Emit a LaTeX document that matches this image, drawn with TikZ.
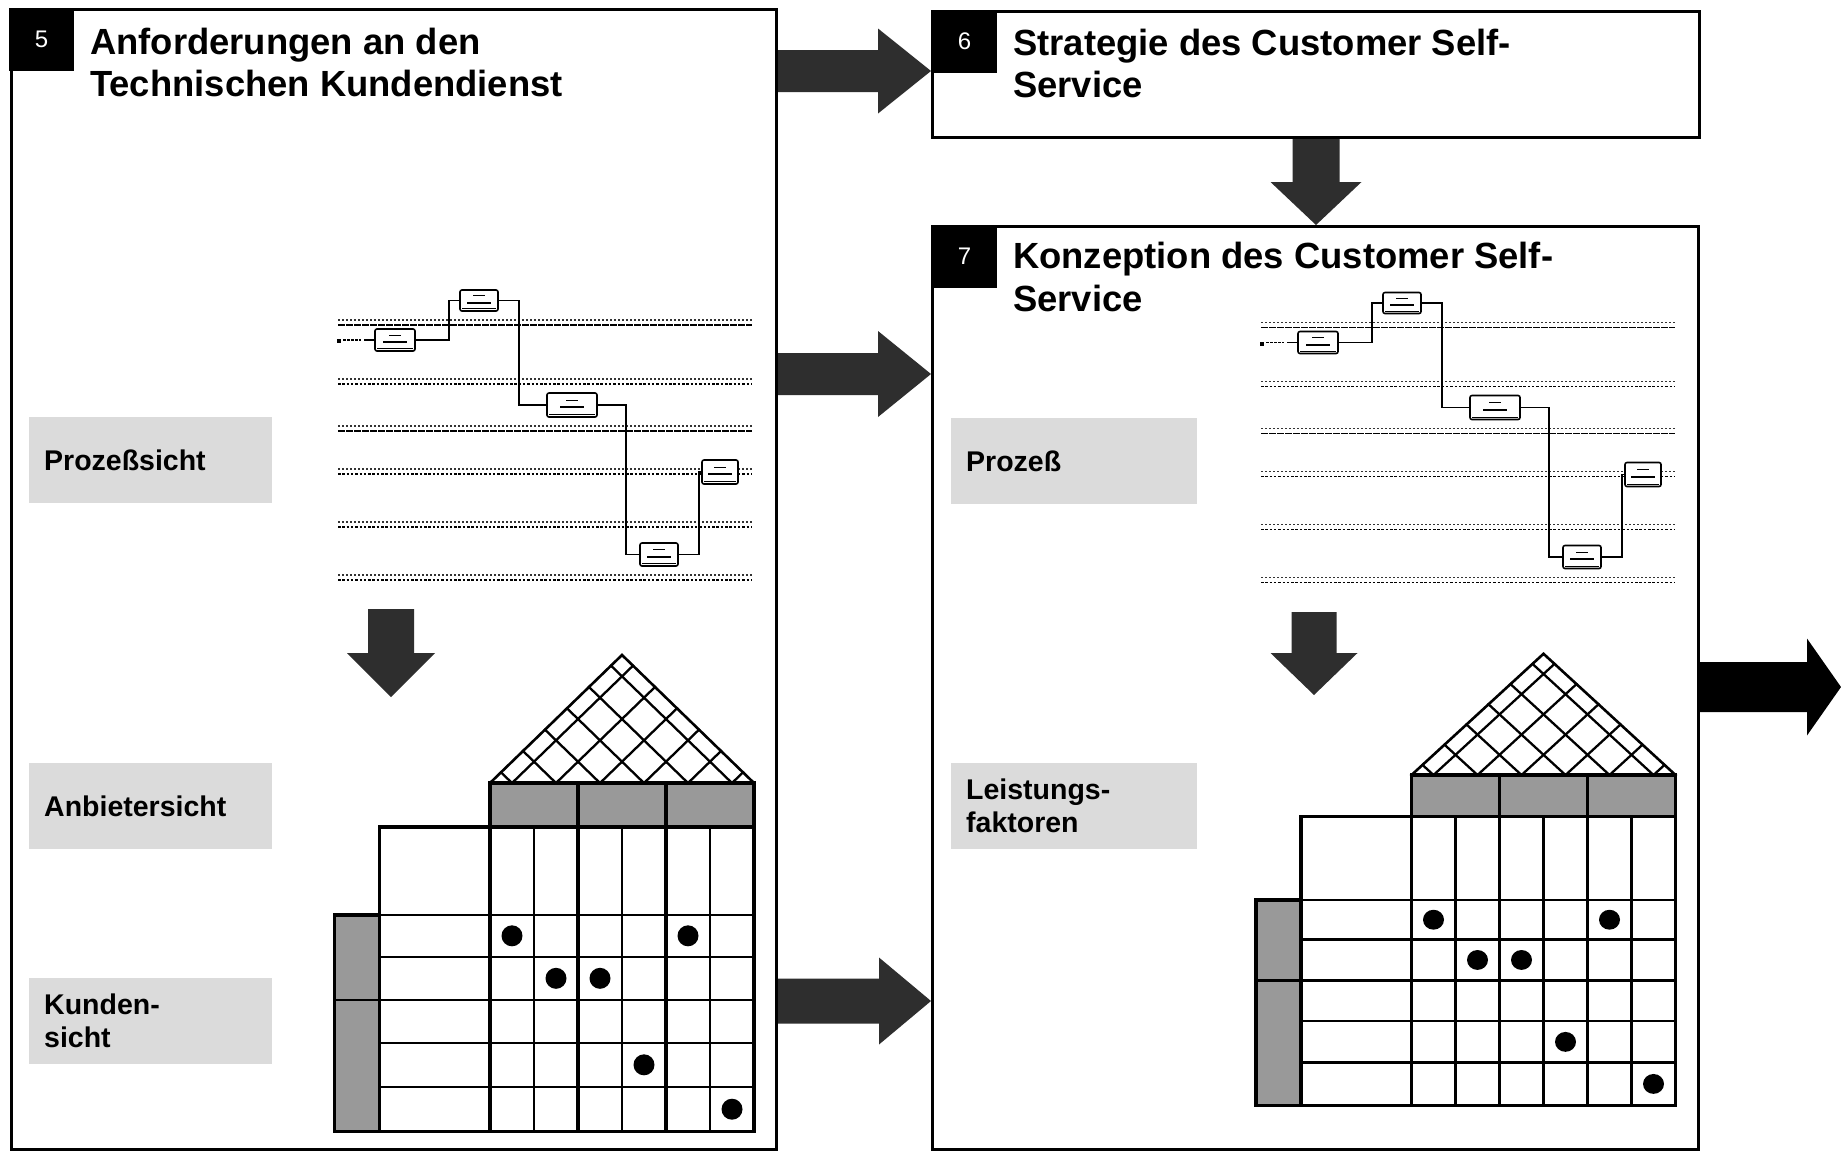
\documentclass[tikz,border=0pt]{standalone}
\usepackage{fontspec}
\setmainfont{Liberation Sans}
\usetikzlibrary{calc}

\tikzset{
  panel/.style={draw=black, line width=3, fill=white, inner sep=0, anchor=north west},
  numbox/.style={fill=black, text=white, inner sep=0, minimum width=65, minimum height=63,
    font=\fontsize{24}{24}\selectfont},
  titletext/.style={inner sep=0, anchor=base west, font=\fontsize{36.4}{42}\selectfont\bfseries},
  viewbox/.style={fill=black!14, inner xsep=15, inner ysep=0, anchor=north west,
    minimum width=243, minimum height=86, text width=213, align=left,
    font=\fontsize{28.5}{33}\selectfont\bfseries},
  blockfill/.style={fill=black!82},
  solidblack/.style={fill=black},
  hqline/.style={line width=2.4},
  hqthick/.style={line width=3.4},
  hqshade/.style={fill=black!40},
  flowbox/.style={draw, line width=1.6, rounded corners=2, fill=white, inner sep=0},
  flowline/.style={line width=1.8},
}

% block arrow pointing right: start, tip, shaft half width, head half width, head length
\newcommand\rarrow[6][blockfill]{%
  \fill[#1] ($(#2)+(0,-#4)$) -- ($(#3)+(-#6,-#4)$) -- ($(#3)+(-#6,-#5)$) -- (#3)
    -- ($(#3)+(-#6,#5)$) -- ($(#3)+(-#6,#4)$) -- ($(#2)+(0,#4)$) -- cycle;}
% block arrow pointing down: start, tip, shaft half width, head half width, head length
\newcommand\darrow[6][blockfill]{%
  \fill[#1] ($(#2)+(-#4,0)$) -- ($(#3)+(-#4,-#6)$) -- ($(#3)+(-#5,-#6)$) -- (#3)
    -- ($(#3)+(#5,-#6)$) -- ($(#3)+(#4,-#6)$) -- ($(#2)+(#4,0)$) -- cycle;}

% small swimlane process chart: #1 shift, #2 name prefix
\newcommand\flowdiagram[2]{%
\begin{scope}[shift={#1}]
  \foreach \y/\solid in {320/1,379/0,426/1,469/0,522/0,575/0} {
    \draw[line width=1.3, black!80, dash pattern=on 1.8 off 2.2] (338,\y) -- (752,\y);
    \ifnum\solid=1
      \draw[line width=1.7, dash pattern=on 7 off 1] (338,\y+5) -- (752,\y+5);
    \else
      \draw[line width=1.4, dash pattern=on 2.5 off 1.8] (338,\y+5) -- (752,\y+5);
    \fi
  }
  \node[flowbox, minimum width=40, minimum height=22] (#2b1) at (395,340) {};
  \node[flowbox, minimum width=38, minimum height=21] (#2b2) at (479,300.5) {};
  \node[flowbox, minimum width=50, minimum height=24] (#2b3) at (572,405) {};
  \node[flowbox, minimum width=38, minimum height=23] (#2b4) at (659,554.5) {};
  \node[flowbox, minimum width=36, minimum height=24] (#2b5) at (720,472) {};
  \foreach \b in {b1,b2,b3,b4,b5} {
    \draw[line width=1.0] ($(#2\b.center)+(-6,-5)$) -- ++(12,0);
    \draw[line width=2.0] ($(#2\b.center)+(-12,2)$) -- ++(24,0);
    \draw[line width=1.0] ($(#2\b.south west)+(3,-3)$) -- ($(#2\b.south east)+(-3,-3)$);
  }
  \fill (337,339) rectangle ++(4,4);
  \draw[line width=1.8, dash pattern=on 3 off 1] (343,340) -- (361,340);
  \coordinate (#2st) at (364,340);
  \draw[flowline] (#2st) -- (#2b1.west);
  \draw[flowline] (#2b1.east) -- ++(33,0) |- (#2b2.west);
  \draw[flowline] (#2b2.east) -- ++(20,0) |- (#2b3.west);
  \draw[flowline] (#2b3.east) -- ++(28,0) |- (#2b4.west);
  \draw[flowline] (#2b4.east) -- ++(20,0) |- (#2b5.west);
\end{scope}}

% house of quality: #1 shift (roof base, left), #2 vertical scale
\newcommand\qfdhouse[2]{%
\begin{scope}[shift={#1}, yscale=#2, line cap=rect]
  \fill[hqshade] (0,0) rectangle (264,44);
  \fill[hqshade] (-155.5,132) rectangle (-110.5,348.7);
  % roof correlation grid
  \foreach \c in {22,66,...,242} {
    \draw[line width=2.3] (\c,0) -- ({\c+0.5*(264-\c)},{-0.48485*(264-\c)});
    \draw[line width=2.3] (\c,0) -- ({0.5*\c},{-0.48485*\c});
  }
  \draw[line width=2.6, line join=miter] (0,0) -- (132,-128) -- (264,0);
  % matrix
  \draw[hqthick] (-110.5,348.7) -- (-110.5,44) -- (264,44);
  \draw[hqthick] (0,0) -- (264,0);
  \foreach \x in {0,88,176,264} \draw[hqthick] (\x,0) -- (\x,348.7);
  \foreach \x in {44,132,220} \draw[hqline] (\x,44) -- (\x,348.7);
  \foreach \y in {132,217} \draw[hqline] (-155.5,\y) -- (264,\y);
  \foreach \y in {173.7,260,303.7} \draw[hqline] (-110.5,\y) -- (264,\y);
  \draw[hqthick] (-155.5,132) rectangle (-110.5,348.7);
  \draw[hqthick] (-155.5,348.7) -- (264,348.7);
  \foreach \px/\py in {22/152.8, 198/152.8, 66/195.3, 110/195.3, 154/281.8, 242/326.2}
    \fill (\px,\py) circle (10.5);
\end{scope}}

\begin{document}
\begin{tikzpicture}[x=1pt, y=-1pt]
\useasboundingbox[fill=white] (0,0) rectangle (1841,1152);

% panels
\node[panel, minimum width=765, minimum height=1140] (p5) at (10,8) {};
\node[panel, minimum width=767, minimum height=126] (p6) at (931,10) {};
\node[panel, minimum width=766, minimum height=923] (p7) at (931,225) {};

% headings
\node[numbox] (n5) at (41.5,39.5) {5};
\node[numbox] (n6) at (964.5,41) {6};
\node[numbox] (n7) at (964.5,256.5) {7};
\node[titletext] (t5a) at (90,54) {Anforderungen an den};
\node[titletext] (t5b) at (90,96) {Technischen Kundendienst};
\node[titletext] (t6a) at (1013,55) {Strategie des Customer Self-};
\node[titletext] (t6b) at (1013,97) {Service};
\node[titletext] (t7a) at (1013,268) {Konzeption des Customer Self-};
\node[titletext] (t7b) at (1013,311) {Service};

% view labels
\node[viewbox] (v1) at (29,417) {Prozeßsicht};
\node[viewbox] (v2) at (29,763) {Anbietersicht};
\node[viewbox] (v3) at (29,978) {Kunden-\\sicht};
\node[viewbox, minimum width=246, text width=216] (v4) at (951,418) {Prozeß};
\node[viewbox, minimum width=246, text width=216] (v5) at (951,763) {Leistungs-\\faktoren};

% process charts
\flowdiagram{(0,0)}{fa}
\flowdiagram{(923,2.5)}{fb}

% houses of quality
\qfdhouse{(490,783)}{1}
\qfdhouse{(1411.5,775)}{0.947}

% arrows between the stages
\coordinate (a1s) at (p5.east |- 0,71);   \coordinate (a1t) at (p6.west |- 0,71);
\coordinate (a2s) at (p5.east |- 0,374);  \coordinate (a2t) at (p7.west |- 0,374);
\coordinate (a3s) at (p5.east |- 0,1001); \coordinate (a3t) at (p7.west |- 0,1001);
\coordinate (a4s) at (p6.south -| 1316,0); \coordinate (a4t) at (p7.north -| 1316,0);
\coordinate (a5s) at (391,609);  \coordinate (a5t) at (391,697);
\coordinate (a6s) at (1314,612); \coordinate (a6t) at (1314,695);
\coordinate (a7s) at (p7.east |- 0,687); \coordinate (a7t) at (1841,687);

\rarrow{a1s}{a1t}{21}{42.5}{53}
\rarrow{a2s}{a2t}{21}{43}{53}
\rarrow{a3s}{a3t}{22.5}{43.5}{52}
\darrow{a4s}{a4t}{23.5}{45.5}{43}
\darrow{a5s}{a5t}{23}{44}{44}
\darrow{a6s}{a6t}{22.5}{43.5}{42}
\rarrow[solidblack]{a7s}{a7t}{25}{48.5}{34}
\end{tikzpicture}
\end{document}
